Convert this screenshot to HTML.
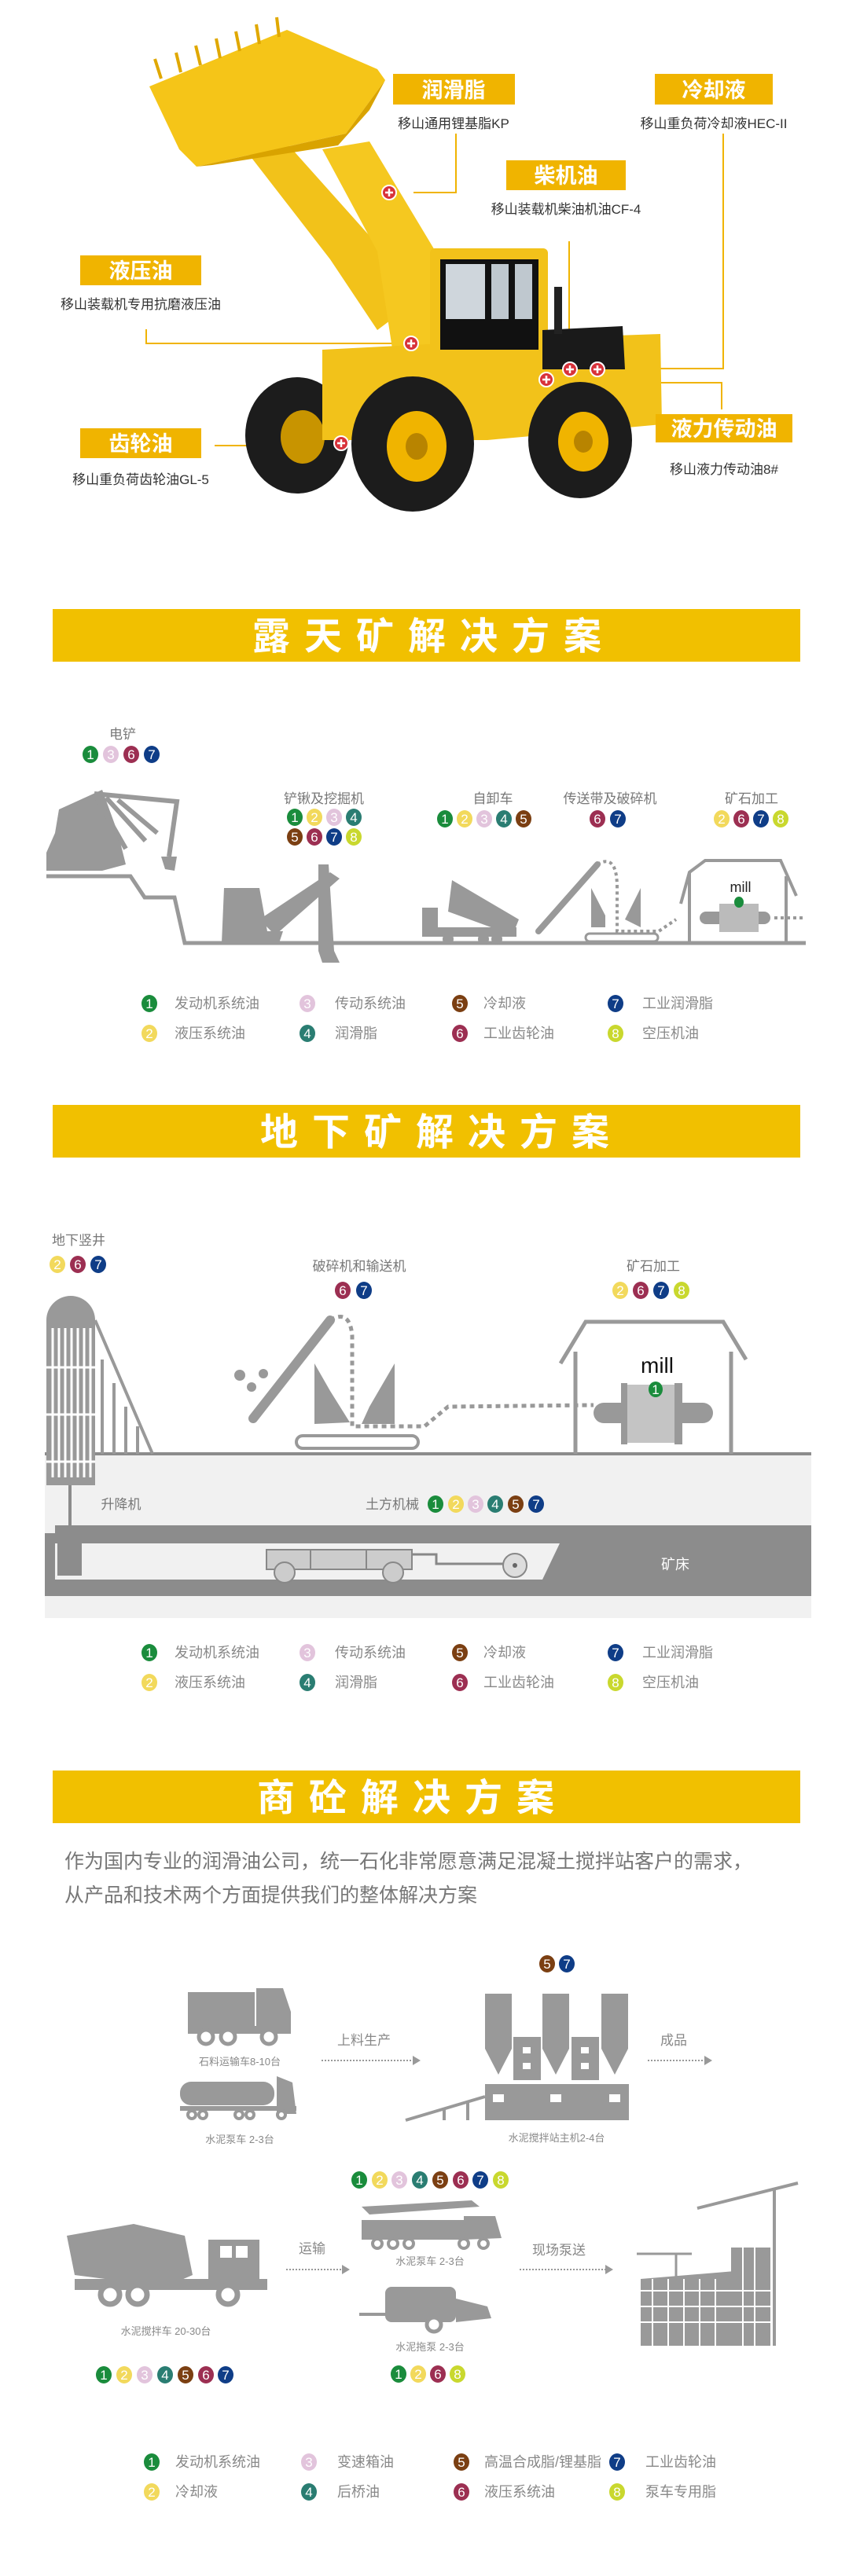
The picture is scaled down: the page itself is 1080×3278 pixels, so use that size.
<!DOCTYPE html>
<html><head><meta charset="utf-8"><style>
html,body{margin:0;padding:0;background:#fff}
svg{display:block}
text{font-family:"Liberation Sans","Noto Sans CJK SC",sans-serif}
.lb{fill:#fff;font-weight:bold;font-size:27px;text-anchor:middle}
.sb{fill:#333;font-size:17px;text-anchor:middle}
.bn{fill:#fff;font-weight:bold;font-size:48px;text-anchor:middle;letter-spacing:18px}
.gl{fill:#777;font-size:17px;text-anchor:middle}
.lg{fill:#888;font-size:18px}
.n{fill:#fff;font-size:17px;text-anchor:middle}
.g{fill:#999}
</style></head><body>
<svg width="1080" height="3278" viewBox="0 0 1080 3278" xmlns="http://www.w3.org/2000/svg">
<defs>
<g id="c1"><ellipse rx="10" ry="11" fill="#1a8c3c"/><text class="n" y="6">1</text></g>
<g id="c2"><ellipse rx="10" ry="11" fill="#f2d95c"/><text class="n" y="6">2</text></g>
<g id="c3"><ellipse rx="10" ry="11" fill="#e2c4dc"/><text class="n" y="6">3</text></g>
<g id="c4"><ellipse rx="10" ry="11" fill="#2a7d72"/><text class="n" y="6">4</text></g>
<g id="c5"><ellipse rx="10" ry="11" fill="#7b3f12"/><text class="n" y="6">5</text></g>
<g id="c6"><ellipse rx="10" ry="11" fill="#9c2f52"/><text class="n" y="6">6</text></g>
<g id="c7"><ellipse rx="10" ry="11" fill="#0f3d87"/><text class="n" y="6">7</text></g>
<g id="c8"><ellipse rx="10" ry="11" fill="#c9d82e"/><text class="n" y="6">8</text></g>
<g id="plus"><circle r="9" fill="#d8323a" stroke="#fff" stroke-width="2"/><path d="M-5 0H5M0-5V5" stroke="#fff" stroke-width="2.5"/></g>
</defs>

<!-- ============ LOADER ============ -->
<g stroke="#f0b400" stroke-width="2" fill="none">
<polyline points="580,170 580,245 526,245"/>
<polyline points="920,170 920,469 800,469"/>
<polyline points="724,307 724,458"/>
<polyline points="186,419 186,437 516,437"/>
<polyline points="273,567 430,567"/>
<polyline points="918,521 918,487 800,487"/>
</g>
<ellipse cx="378" cy="554" rx="66" ry="74" fill="#1c1c1c"/>
<ellipse cx="385" cy="556" rx="28" ry="34" fill="#c89400"/>
<polygon points="300,175 345,160 470,300 520,390 480,420 420,330" fill="#f2c21a"/>
<polygon points="410,190 470,180 560,330 560,440 500,450 480,320" fill="#f5c820"/>
<polygon points="190,110 365,38 480,88 490,102 440,170 250,212 228,190" fill="#f5c518"/>
<polygon points="250,212 440,170 490,102 470,140 430,185 270,210" fill="#d9a300"/>
<g stroke="#e0a800" stroke-width="4"><path d="M205 100l-8-25M230 92l-6-25M255 83l-6-25M280 74l-5-25M305 65l-5-25M330 56l-4-25M355 47l-3-25"/></g>
<polygon points="410,445 700,430 840,425 842,540 620,560 410,560" fill="#f2c21a"/>
<rect x="547" y="316" width="150" height="134" rx="6" fill="#f2c21a"/>
<rect x="560" y="330" width="125" height="115" fill="#111"/>
<rect x="567" y="336" width="50" height="70" fill="#cfd6dc"/>
<rect x="625" y="336" width="22" height="70" fill="#bfc8cf"/>
<rect x="655" y="336" width="22" height="70" fill="#bfc8cf"/>
<polygon points="690,420 792,415 795,470 690,470" fill="#1a1a1a"/>
<rect x="705" y="365" width="10" height="60" fill="#222"/>
<ellipse cx="525" cy="565" rx="78" ry="86" fill="#1c1c1c"/>
<ellipse cx="530" cy="568" rx="38" ry="45" fill="#f0b400"/>
<ellipse cx="530" cy="568" rx="14" ry="17" fill="#b88400"/>
<ellipse cx="738" cy="560" rx="66" ry="74" fill="#1c1c1c"/>
<ellipse cx="742" cy="562" rx="32" ry="38" fill="#f0b400"/>
<ellipse cx="742" cy="562" rx="12" ry="14" fill="#b88400"/>
<use href="#plus" x="495" y="245"/><use href="#plus" x="523" y="437"/><use href="#plus" x="725" y="470"/>
<use href="#plus" x="760" y="470"/><use href="#plus" x="695" y="483"/><use href="#plus" x="434" y="564"/>
<rect x="500" y="94" width="155" height="39" fill="#f0b400"/><text class="lb" x="577" y="124">润滑脂</text>
<text class="sb" x="577" y="163">移山通用锂基脂KP</text>
<rect x="833" y="94" width="150" height="39" fill="#f0b400"/><text class="lb" x="908" y="124">冷却液</text>
<text class="sb" x="908" y="163">移山重负荷冷却液HEC-II</text>
<rect x="644" y="204" width="152" height="38" fill="#f0b400"/><text class="lb" x="720" y="233">柴机油</text>
<text class="sb" x="720" y="272">移山装载机柴油机油CF-4</text>
<rect x="102" y="325" width="154" height="38" fill="#f0b400"/><text class="lb" x="179" y="354">液压油</text>
<text class="sb" x="179" y="393">移山装载机专用抗磨液压油</text>
<rect x="102" y="545" width="154" height="38" fill="#f0b400"/><text class="lb" x="179" y="574">齿轮油</text>
<text class="sb" x="179" y="616">移山重负荷齿轮油GL-5</text>
<rect x="834" y="527" width="174" height="36" fill="#f0b400"/><text class="lb" x="921" y="555">液力传动油</text>
<text class="sb" x="921" y="603">移山液力传动油8#</text>

<!-- ============ SECTION 2 ============ -->
<rect x="67" y="775" width="951" height="67" fill="#f1c000"/>
<text class="bn" x="552" y="826">露天矿解决方案</text>
<polyline points="59,1115 166,1115 184,1142 222,1142 235,1200 1025,1200" fill="none" stroke="#999" stroke-width="5"/>
<text class="gl" x="156" y="940">电铲</text>
<use href="#c1" x="115" y="960"/><use href="#c3" x="141" y="960"/><use href="#c6" x="167" y="960"/><use href="#c7" x="193" y="960"/>
<text class="gl" x="412" y="1022">铲锹及挖掘机</text>
<use href="#c1" x="375" y="1040"/><use href="#c2" x="400" y="1040"/><use href="#c3" x="425" y="1040"/><use href="#c4" x="450" y="1040"/>
<use href="#c5" x="375" y="1065"/><use href="#c6" x="400" y="1065"/><use href="#c7" x="425" y="1065"/><use href="#c8" x="450" y="1065"/>
<text class="gl" x="627" y="1022">自卸车</text>
<use href="#c1" x="566" y="1042"/><use href="#c2" x="591" y="1042"/><use href="#c3" x="616" y="1042"/><use href="#c4" x="641" y="1042"/><use href="#c5" x="666" y="1042"/>
<text class="gl" x="776" y="1022">传送带及破碎机</text>
<use href="#c6" x="760" y="1042"/><use href="#c7" x="786" y="1042"/>
<text class="gl" x="956" y="1022">矿石加工</text>
<use href="#c2" x="918" y="1042"/><use href="#c6" x="943" y="1042"/><use href="#c7" x="968" y="1042"/><use href="#c8" x="993" y="1042"/>
<polygon class="g" points="59,1108 59,1085 70,1060 75,1030 130,1005 150,1060 160,1100 130,1108"/>
<g stroke="#999" stroke-width="6" fill="none"><path d="M120 1010L225 1020L215 1090M120 1010L160 1080M135 1015L185 1070M150 1018L200 1060"/></g>
<polygon class="g" points="205,1090 225,1090 222,1108 210,1106"/>
<polygon class="g" points="285,1130 330,1130 340,1185 360,1185 355,1200 282,1200"/>
<polygon class="g" points="330,1170 420,1110 432,1118 350,1190"/>
<polygon class="g" points="405,1100 418,1100 425,1210 432,1225 410,1225 405,1210"/>
<polygon class="g" points="575,1120 660,1170 652,1190 570,1160"/>
<rect class="g" x="537" y="1155" width="20" height="35"/><rect class="g" x="537" y="1180" width="120" height="12"/>
<circle class="g" cx="570" cy="1195" r="7"/><circle class="g" cx="615" cy="1195" r="7"/><circle class="g" cx="632" cy="1195" r="7"/>
<path d="M685 1185L760 1100" stroke="#999" stroke-width="8" fill="none" stroke-linecap="round"/>
<path d="M760 1100Q785 1085 785 1130L785 1185L838 1185L860 1170" stroke="#999" stroke-width="4" stroke-dasharray="4 4" fill="none"/>
<polygon class="g" points="752,1130 770,1165 770,1180 752,1180"/><polygon class="g" points="815,1130 795,1170 815,1180"/>
<rect x="745" y="1188" width="92" height="10" rx="5" fill="none" stroke="#999" stroke-width="3"/>
<polyline points="866,1150 877,1110 897,1095 993,1095 1013,1140" fill="none" stroke="#999" stroke-width="4"/>
<path d="M877 1110V1200M1000 1115V1200" stroke="#999" stroke-width="4"/>
<text x="942" y="1135" font-size="18" fill="#222" text-anchor="middle">mill</text>
<rect x="890" y="1160" width="90" height="16" rx="8" fill="#999"/><rect x="915" y="1150" width="50" height="36" fill="#bbb"/>
<ellipse cx="940" cy="1148" rx="6" ry="7" fill="#1a8c3c"/>
<path d="M985 1168H1025" stroke="#999" stroke-width="4" stroke-dasharray="4 4"/>
<g id="lg1">
<use href="#c1" x="190" y="1277"/><text class="lg" x="222" y="1283">发动机系统油</text>
<use href="#c3" x="391" y="1277"/><text class="lg" x="426" y="1283">传动系统油</text>
<use href="#c5" x="585" y="1277"/><text class="lg" x="615" y="1283">冷却液</text>
<use href="#c7" x="783" y="1277"/><text class="lg" x="817" y="1283">工业润滑脂</text>
<use href="#c2" x="190" y="1315"/><text class="lg" x="222" y="1321">液压系统油</text>
<use href="#c4" x="391" y="1315"/><text class="lg" x="426" y="1321">润滑脂</text>
<use href="#c6" x="585" y="1315"/><text class="lg" x="615" y="1321">工业齿轮油</text>
<use href="#c8" x="783" y="1315"/><text class="lg" x="817" y="1321">空压机油</text>
</g>

<!-- ============ SECTION 3 ============ -->
<rect x="67" y="1406" width="951" height="67" fill="#f1c000"/>
<text class="bn" x="562" y="1457">地下矿解决方案</text>
<rect x="57" y="1850" width="975" height="209" fill="#f1f1f1"/>
<rect x="57" y="1941" width="975" height="90" fill="#8c8c8c"/>
<polygon points="70,1964 712,1964 690,2010 70,2010" fill="#f1f1f1"/>
<rect x="57" y="1941" width="13" height="10" fill="#f1f1f1"/>
<line x1="57" y1="1850" x2="1032" y2="1850" stroke="#8c8c8c" stroke-width="4"/>
<text x="859" y="1997" font-size="18" fill="#fff" text-anchor="middle">矿床</text>
<text class="gl" x="154" y="1920">升降机</text>
<text class="gl" x="499" y="1920">土方机械</text>
<use href="#c1" x="554" y="1914"/><use href="#c2" x="580" y="1914"/><use href="#c3" x="605" y="1914"/><use href="#c4" x="630" y="1914"/><use href="#c5" x="656" y="1914"/><use href="#c7" x="682" y="1914"/>
<text class="gl" x="100" y="1584">地下竖井</text>
<use href="#c2" x="73" y="1609"/><use href="#c6" x="99" y="1609"/><use href="#c7" x="125" y="1609"/>
<text class="gl" x="457" y="1617">破碎机和输送机</text>
<use href="#c6" x="436" y="1642"/><use href="#c7" x="463" y="1642"/>
<text class="gl" x="831" y="1617">矿石加工</text>
<use href="#c2" x="789" y="1642"/><use href="#c6" x="815" y="1642"/><use href="#c7" x="841" y="1642"/><use href="#c8" x="867" y="1642"/>
<path d="M59 1890V1680A31 31 0 0 1 121 1680V1890Z" fill="#999"/>
<g stroke="#fff" stroke-width="3"><path d="M67 1690V1880M75 1690V1880M83 1690V1880M91 1690V1880M99 1690V1880M107 1690V1880M115 1690V1880"/><path d="M59 1740H121M59 1800H121M59 1860H121"/></g>
<path d="M121 1680L194 1850M130 1730V1850M145 1760V1850M160 1790V1850M175 1815V1850" stroke="#999" stroke-width="4"/>
<path d="M89 1890V1960" stroke="#8c8c8c" stroke-width="4"/>
<rect x="73" y="1959" width="31" height="46" fill="#8c8c8c"/>
<path d="M322 1805L420 1680" stroke="#999" stroke-width="12" stroke-linecap="round"/>
<path d="M420 1680Q445 1665 448 1700L448 1815L540 1815L570 1790L755 1788" stroke="#999" stroke-width="5" stroke-dasharray="6 5" fill="none"/>
<polygon class="g" points="400,1735 420,1770 445,1810 400,1812"/><polygon class="g" points="502,1735 470,1790 460,1812 502,1812"/>
<circle class="g" cx="305" cy="1750" r="7"/><circle class="g" cx="320" cy="1765" r="6"/><circle class="g" cx="335" cy="1748" r="6"/>
<rect x="377" y="1827" width="155" height="16" rx="8" fill="none" stroke="#999" stroke-width="4"/>
<polyline points="713,1735 745,1682 920,1682 949,1730" fill="none" stroke="#999" stroke-width="5"/>
<path d="M732 1720V1850M930 1720V1850" stroke="#999" stroke-width="5"/>
<text x="836" y="1747" font-size="28" fill="#111" text-anchor="middle">mill</text>
<rect x="755" y="1785" width="152" height="26" rx="13" fill="#999"/>
<rect x="793" y="1762" width="70" height="74" fill="#c4c4c4"/>
<rect x="790" y="1760" width="8" height="78" fill="#999"/><rect x="858" y="1760" width="10" height="78" fill="#999"/>
<ellipse cx="834" cy="1768" rx="9" ry="10" fill="#1a8c3c"/><text class="n" x="834" y="1774" font-size="14">1</text>
<rect x="339" y="1972" width="185" height="25" fill="#ccc" stroke="#888" stroke-width="2"/>
<path d="M395 1972V1997M466 1972V1997" stroke="#888" stroke-width="2"/>
<path d="M524 1978H555V1990H650" stroke="#888" stroke-width="3" fill="none"/>
<circle cx="362" cy="2001" r="13" fill="#ccc" stroke="#888" stroke-width="2"/><circle cx="500" cy="2001" r="13" fill="#ccc" stroke="#888" stroke-width="2"/>
<circle cx="655" cy="1992" r="15" fill="#ddd" stroke="#888" stroke-width="2"/><circle cx="655" cy="1992" r="3" fill="#666"/>
<use href="#lg1" y="826"/>

<!-- ============ SECTION 4 ============ -->
<rect x="67" y="2253" width="951" height="67" fill="#f1c000"/>
<text class="bn" x="525" y="2304">商砼解决方案</text>
<text x="82" y="2377" font-size="25" fill="#777">作为国内专业的润滑油公司，统一石化非常愿意满足混凝土搅拌站客户的需求，</text>
<text x="82" y="2420" font-size="25" fill="#777">从产品和技术两个方面提供我们的整体解决方案</text>
<use href="#c5" x="696" y="2499"/><use href="#c7" x="721" y="2499"/>
<rect class="g" x="239" y="2535" width="85" height="45"/><polygon class="g" points="326,2530 360,2530 370,2560 370,2585 326,2585"/>
<rect class="g" x="239" y="2578" width="131" height="10"/>
<circle cx="262" cy="2592" r="9" fill="#fff" stroke="#999" stroke-width="5"/><circle cx="290" cy="2592" r="9" fill="#fff" stroke="#999" stroke-width="5"/><circle cx="342" cy="2592" r="9" fill="#fff" stroke="#999" stroke-width="5"/>
<text x="305" y="2628" font-size="13" fill="#888" text-anchor="middle">石料运输车8-10台</text>
<rect class="g" x="229" y="2649" width="120" height="30" rx="14"/><polygon class="g" points="352,2642 372,2650 377,2690 352,2690"/>
<rect class="g" x="229" y="2680" width="148" height="6"/>
<g fill="#fff" stroke="#999" stroke-width="4"><circle cx="244" cy="2691" r="5"/><circle cx="258" cy="2691" r="5"/><circle cx="304" cy="2691" r="5"/><circle cx="318" cy="2691" r="5"/><circle cx="358" cy="2691" r="5"/></g>
<text x="305" y="2727" font-size="13" fill="#888" text-anchor="middle">水泥泵车 2-3台</text>
<text x="463" y="2602" font-size="17" fill="#888" text-anchor="middle">上料生产</text>
<path d="M409 2622H525" stroke="#999" stroke-width="2" stroke-dasharray="2 2"/><polygon points="525,2616 535,2622 525,2628" fill="#999"/>
<g fill="#999">
<rect x="617" y="2537" width="34" height="70"/><polygon points="617,2607 651,2607 634,2640"/>
<rect x="690" y="2537" width="34" height="70"/><polygon points="690,2607 724,2607 707,2640"/>
<rect x="765" y="2537" width="34" height="70"/><polygon points="765,2607 799,2607 782,2640"/>
<rect x="653" y="2592" width="35" height="55"/><rect x="727" y="2592" width="35" height="55"/>
<rect x="617" y="2652" width="183" height="46"/>
</g>
<g fill="#fff"><rect x="665" y="2605" width="10" height="8"/><rect x="665" y="2625" width="10" height="8"/><rect x="739" y="2605" width="10" height="8"/><rect x="739" y="2625" width="10" height="8"/>
<rect x="627" y="2665" width="14" height="10"/><rect x="700" y="2665" width="14" height="10"/><rect x="775" y="2665" width="14" height="10"/></g>
<path d="M516 2698L617 2668M565 2685V2698M595 2676V2698" stroke="#999" stroke-width="4"/>
<text x="708" y="2725" font-size="13" fill="#888" text-anchor="middle">水泥搅拌站主机2-4台</text>
<text x="857" y="2602" font-size="17" fill="#888" text-anchor="middle">成品</text>
<path d="M824 2622H896" stroke="#999" stroke-width="2" stroke-dasharray="2 2"/><polygon points="896,2616 906,2622 896,2628" fill="#999"/>
<use href="#c1" x="457" y="2774"/><use href="#c2" x="483" y="2774"/><use href="#c3" x="508" y="2774"/><use href="#c4" x="534" y="2774"/><use href="#c5" x="560" y="2774"/><use href="#c6" x="586" y="2774"/><use href="#c7" x="611" y="2774"/><use href="#c8" x="637" y="2774"/>
<polygon class="g" points="460,2808 600,2800 610,2808 470,2818"/>
<rect class="g" x="460" y="2825" width="130" height="25"/><polygon class="g" points="590,2820 630,2820 638,2848 590,2850"/>
<g fill="#fff" stroke="#999" stroke-width="4"><circle cx="480" cy="2855" r="6"/><circle cx="500" cy="2855" r="6"/><circle cx="520" cy="2855" r="6"/><circle cx="590" cy="2855" r="6"/><circle cx="615" cy="2855" r="6"/></g>
<text x="547" y="2882" font-size="13" fill="#888" text-anchor="middle">水泥泵车 2-3台</text>
<rect class="g" x="490" y="2910" width="90" height="45" rx="8"/><polygon class="g" points="580,2925 620,2935 625,2950 580,2955"/>
<path d="M457 2945H490" stroke="#999" stroke-width="4"/>
<circle cx="552" cy="2958" r="9" fill="#fff" stroke="#999" stroke-width="5"/>
<text x="547" y="2991" font-size="13" fill="#888" text-anchor="middle">水泥拖泵 2-3台</text>
<use href="#c1" x="507" y="3021"/><use href="#c2" x="532" y="3021"/><use href="#c6" x="557" y="3021"/><use href="#c8" x="582" y="3021"/>
<polygon class="g" points="85,2845 170,2830 235,2845 245,2895 210,2910 95,2895"/>
<rect class="g" x="265" y="2850" width="65" height="55"/><rect x="280" y="2858" width="15" height="15" fill="#fff"/><rect x="300" y="2858" width="15" height="15" fill="#fff"/>
<rect class="g" x="95" y="2900" width="245" height="14"/>
<g fill="#fff" stroke="#999" stroke-width="7"><circle cx="140" cy="2920" r="12"/><circle cx="175" cy="2920" r="12"/><circle cx="290" cy="2920" r="12"/></g>
<text x="211" y="2971" font-size="13" fill="#888" text-anchor="middle">水泥搅拌车 20-30台</text>
<use href="#c1" x="132" y="3022"/><use href="#c2" x="158" y="3022"/><use href="#c3" x="184" y="3022"/><use href="#c4" x="210" y="3022"/><use href="#c5" x="236" y="3022"/><use href="#c6" x="262" y="3022"/><use href="#c7" x="287" y="3022"/>
<text x="397" y="2867" font-size="17" fill="#888" text-anchor="middle">运输</text>
<path d="M364 2888H435" stroke="#999" stroke-width="2" stroke-dasharray="2 2"/><polygon points="435,2882 445,2888 435,2894" fill="#999"/>
<text x="711" y="2869" font-size="17" fill="#888" text-anchor="middle">现场泵送</text>
<path d="M661 2888H770" stroke="#999" stroke-width="2" stroke-dasharray="2 2"/><polygon points="770,2882 780,2888 770,2894" fill="#999"/>
<path d="M887 2810L1015 2778M985 2785V2985" stroke="#999" stroke-width="4"/>
<polygon class="g" points="815,2900 935,2890 935,2985 815,2985"/>
<rect class="g" x="930" y="2860" width="50" height="125"/>
<g stroke="#fff" stroke-width="2"><path d="M815 2915H980M815 2935H980M815 2955H980M830 2900V2985M850 2900V2985M870 2900V2985M890 2900V2985M910 2900V2985M945 2860V2985M960 2860V2985"/></g>
<path d="M810 2868H880M860 2868V2900" stroke="#999" stroke-width="3"/>
<use href="#c1" x="193" y="3133"/><text class="lg" x="223" y="3139">发动机系统油</text>
<use href="#c3" x="393" y="3133"/><text class="lg" x="429" y="3139">变速箱油</text>
<use href="#c5" x="587" y="3133"/><text class="lg" x="616" y="3139">高温合成脂/锂基脂</text>
<use href="#c7" x="785" y="3133"/><text class="lg" x="821" y="3139">工业齿轮油</text>
<use href="#c2" x="193" y="3171"/><text class="lg" x="223" y="3177">冷却液</text>
<use href="#c4" x="393" y="3171"/><text class="lg" x="429" y="3177">后桥油</text>
<use href="#c6" x="587" y="3171"/><text class="lg" x="616" y="3177">液压系统油</text>
<use href="#c8" x="785" y="3171"/><text class="lg" x="821" y="3177">泵车专用脂</text>
</svg>
</body></html>
